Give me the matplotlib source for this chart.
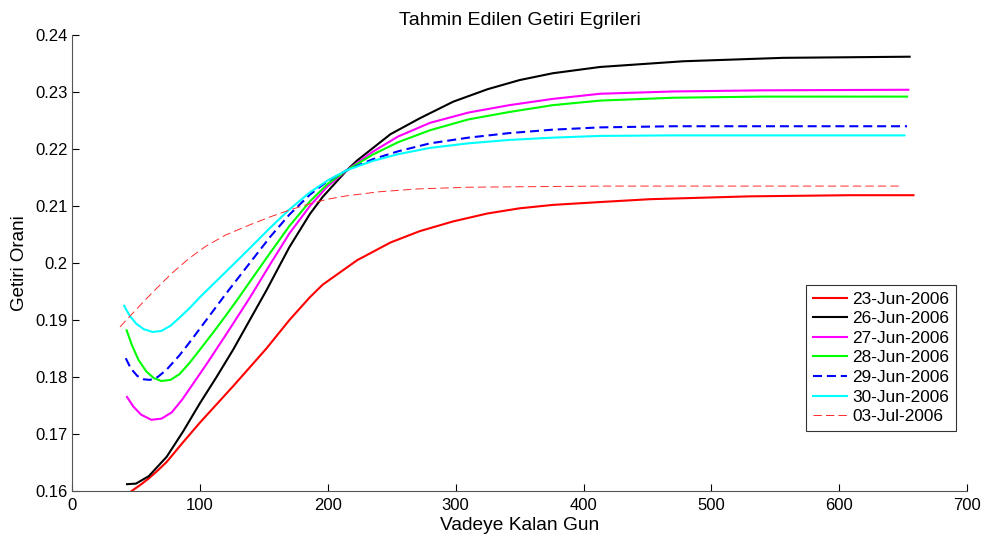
import matplotlib
matplotlib.use('Agg')
import matplotlib.pyplot as plt

plt.rcParams['font.family'] = ['Liberation Sans', 'DejaVu Sans']
plt.rcParams['lines.scale_dashes'] = False

# days to maturity / estimated yield, one pair of lists per curve date
x_0623 = [46.6, 53, 60, 67, 74, 87, 100, 113, 126, 139, 152, 170, 186, 196, 223, 249, 272, 298, 325, 350,
          376, 413, 452, 530, 608, 658]
y_0623 = [0.1600, 0.1610, 0.1622, 0.1636, 0.1651, 0.1686, 0.1720, 0.1752, 0.1784, 0.1817, 0.1850, 0.1900,
          0.1940, 0.1962, 0.2005, 0.2036, 0.2056, 0.2073, 0.2087, 0.2096, 0.2102, 0.2107, 0.2112, 0.2117,
          0.2119, 0.2119]

x_0626 = [43, 50, 60, 74, 87, 100, 113, 126, 139, 152, 170, 186, 196, 215, 223, 249, 272, 298, 325, 350,
          376, 413, 478, 556, 655]
y_0626 = [0.1612, 0.1613, 0.1626, 0.1660, 0.1705, 0.1754, 0.1800, 0.1848, 0.1900, 0.1952, 0.2028, 0.2086,
          0.2116, 0.2163, 0.2180, 0.2226, 0.2254, 0.2283, 0.2305, 0.2321, 0.2333, 0.2344, 0.2354, 0.2360,
          0.2362]

x_0627 = [43, 48, 54, 62, 70, 78, 86, 94, 105, 120, 139, 155, 170, 186, 200, 215, 235, 255, 280, 310, 342,
          376, 413, 470, 540, 654]
y_0627 = [0.1765, 0.1748, 0.1734, 0.1725, 0.1727, 0.1738, 0.1760, 0.1786, 0.1822, 0.1873, 0.1939, 0.1998,
          0.2052, 0.2100, 0.2135, 0.2163, 0.2195, 0.2222, 0.2246, 0.2264, 0.2277, 0.2288, 0.2297, 0.2301,
          0.2303, 0.2304]

x_0628 = [42.7, 47, 52, 58, 64, 70, 77, 84, 92, 100, 110, 120, 130, 139, 155, 170, 186, 200, 215, 235, 255,
          280, 310, 342, 376, 413, 470, 540, 653]
y_0628 = [0.1882, 0.1855, 0.1830, 0.1810, 0.1798, 0.1793, 0.1795, 0.1805, 0.1825, 0.1848, 0.1877, 0.1907,
          0.1938, 0.1967, 0.2018, 0.2065, 0.2108, 0.2139, 0.2163, 0.2190, 0.2212, 0.2233, 0.2252, 0.2265,
          0.2277, 0.2285, 0.2290, 0.2292, 0.2292]

x_0629 = [42, 46, 51, 56, 61, 67, 74, 84, 92, 100, 110, 120, 130, 139, 155, 170, 186, 200, 215, 235, 255,
          280, 310, 342, 376, 413, 470, 653]
y_0629 = [0.1833, 0.1815, 0.1802, 0.1796, 0.1795, 0.1800, 0.1813, 0.1838, 0.1861, 0.1885, 0.1915, 0.1945,
          0.1974, 0.2000, 0.2046, 0.2085, 0.2120, 0.2144, 0.2163, 0.2182, 0.2196, 0.2210, 0.2220, 0.2228,
          0.2234, 0.2238, 0.2240, 0.2240]

x_0630 = [40.7, 45, 50, 56, 63, 70, 77, 84, 92, 100, 110, 120, 130, 139, 155, 170, 186, 200, 215, 235, 255,
          280, 310, 342, 376, 413, 470, 651]
y_0630 = [0.1925, 0.1908, 0.1894, 0.1884, 0.1879, 0.1881, 0.1890, 0.1904, 0.1921, 0.1940, 0.1962, 0.1984,
          0.2006, 0.2026, 0.2062, 0.2094, 0.2124, 0.2145, 0.2163, 0.2179, 0.2191, 0.2202, 0.2210, 0.2216,
          0.2220, 0.2223, 0.2224, 0.2224]

x_0703 = [37.5, 45, 55, 65, 78, 92, 105, 120, 139, 155, 170, 186, 200, 215, 240, 270, 310, 360, 413, 648]
y_0703 = [0.1888, 0.1906, 0.1930, 0.1953, 0.1982, 0.2009, 0.2030, 0.2049, 0.2067, 0.2081, 0.2093, 0.2104,
          0.2112, 0.2118, 0.2125, 0.2130, 0.2133, 0.2134, 0.2135, 0.2135]

labels = ['23-Jun-2006', '26-Jun-2006', '27-Jun-2006', '28-Jun-2006',
          '29-Jun-2006', '30-Jun-2006', '03-Jul-2006']

xticks = [0, 100, 200, 300, 400, 500, 600, 700]
yticks = [0.16, 0.17, 0.18, 0.19, 0.20, 0.21, 0.22, 0.23, 0.24]
ytick_labels = ['0.16', '0.17', '0.18', '0.19', '0.2', '0.21', '0.22', '0.23', '0.24']

fig = plt.figure(figsize=(9.88, 5.40), dpi=100)
ax = fig.add_axes([0.0729, 0.0907, 0.906, 0.8444])

ax.plot(x_0623, y_0623, color='#ff0000', lw=1.5, label=labels[0])
ax.plot(x_0626, y_0626, color='#000000', lw=1.5, label=labels[1])
ax.plot(x_0627, y_0627, color='#ff00ff', lw=1.5, label=labels[2])
ax.plot(x_0628, y_0628, color='#00ff00', lw=1.5, label=labels[3])
ax.plot(x_0629, y_0629, color='#0000ff', lw=1.5, dashes=(6.5, 3.5), label=labels[4])
ax.plot(x_0630, y_0630, color='#00ffff', lw=1.5, label=labels[5])
ax.plot(x_0703, y_0703, color='#ff2a2a', lw=0.7, dashes=(6, 3), label=labels[6])

ax.set_xlim(0, 700)
ax.set_ylim(0.16, 0.24)
ax.set_xticks(xticks)
ax.set_yticks(yticks)
ax.set_yticklabels(ytick_labels)
ax.tick_params(direction='in', length=5, width=0.8, labelsize=12, colors='#000000', pad=3)
ax.tick_params(axis='x', pad=5)
for side in ['top', 'right']:
    ax.spines[side].set_visible(False)
for side in ['left', 'bottom']:
    ax.spines[side].set_color('#555555')
    ax.spines[side].set_linewidth(0.8)

ax.set_title('Tahmin Edilen Getiri Egrileri', fontsize=14, pad=7)
ax.set_xlabel('Vadeye Kalan Gun', fontsize=13.8, labelpad=3)
ax.set_ylabel('Getiri Orani', fontsize=13.5, labelpad=5)

leg = ax.legend(loc='upper left', bbox_to_anchor=(0.82, 0.452), fontsize=12.4,
                frameon=True, fancybox=False, handlelength=2.0, handletextpad=0.3,
                labelspacing=0.26, borderpad=0.4, borderaxespad=0)
leg.get_frame().set_edgecolor('#000000')
leg.get_frame().set_linewidth(0.8)

fig.savefig('out.png', dpi=100)
